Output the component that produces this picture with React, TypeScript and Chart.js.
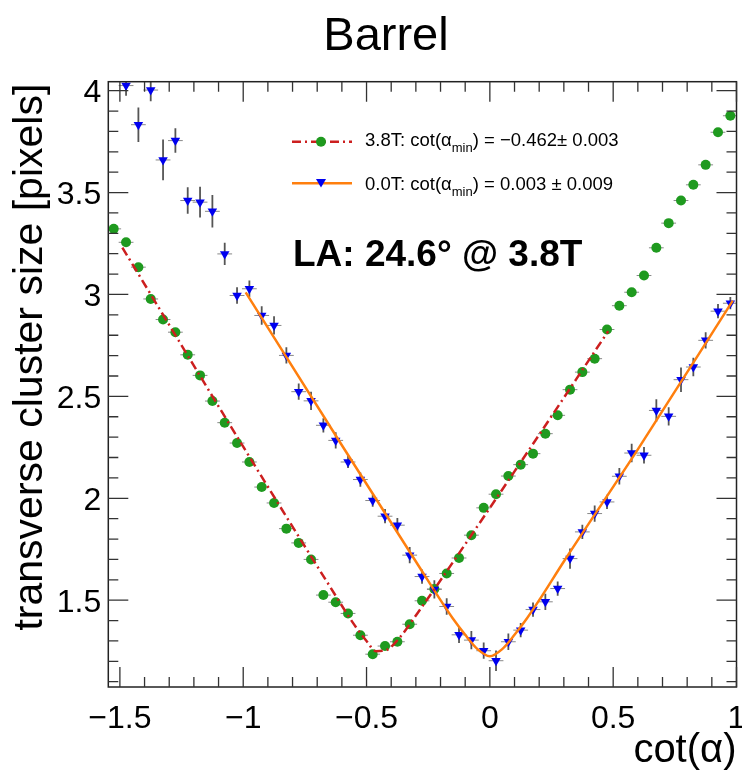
import React, { useEffect, useRef } from "react";
import { Chart, registerables } from "chart.js";

Chart.register(...registerables);

// ---------- data ----------
const xCenters = [
  -1.525, -1.475, -1.425, -1.375, -1.325, -1.275, -1.225, -1.175, -1.125, -1.075,
  -1.025, -0.975, -0.925, -0.875, -0.825, -0.775, -0.725, -0.675, -0.625, -0.575,
  -0.525, -0.475, -0.425, -0.375, -0.325, -0.275, -0.225, -0.175, -0.125, -0.075,
  -0.025, 0.025, 0.075, 0.125, 0.175, 0.225, 0.275, 0.325, 0.375, 0.425,
  0.475, 0.525, 0.575, 0.625, 0.675, 0.725, 0.775, 0.825, 0.875, 0.925, 0.975,
];

const size38T = [
  3.322, 3.256, 3.134, 2.978, 2.877, 2.815, 2.704, 2.603, 2.477, 2.371,
  2.271, 2.178, 2.055, 1.977, 1.851, 1.781, 1.7, 1.525, 1.49, 1.435,
  1.328, 1.235, 1.275, 1.296, 1.382, 1.497, 1.555, 1.631, 1.707, 1.819,
  1.953, 2.02, 2.109, 2.165, 2.219, 2.317, 2.407, 2.533, 2.619, 2.685,
  2.828, 2.945, 3.011, 3.093, 3.229, 3.35, 3.461, 3.538, 3.636, 3.796, 3.877,
];
const err38T = [
  0.02, 0.02, 0.02, 0.015, 0.015, 0.015, 0.015, 0.015, 0.015, 0.015,
  0.015, 0.015, 0.015, 0.015, 0.015, 0.015, 0.015, 0.015, 0.015, 0.015,
  0.015, 0.015, 0.015, 0.015, 0.015, 0.015, 0.015, 0.015, 0.015, 0.015,
  0.015, 0.015, 0.015, 0.015, 0.015, 0.015, 0.015, 0.015, 0.015, 0.015,
  0.015, 0.015, 0.015, 0.015, 0.015, 0.015, 0.015, 0.015, 0.015, 0.015, 0.015,
];

const size00T = [
  4.15, 4.025, 3.833, 4.003, 3.66, 3.755, 3.461, 3.453, 3.408, 3.199,
  2.995, 3.028, 2.897, 2.848, 2.701, 2.523, 2.478, 2.358, 2.284, 2.178,
  2.092, 1.989, 1.912, 1.868, 1.721, 1.616, 1.553, 1.469, 1.33, 1.304,
  1.252, 1.203, 1.296, 1.353, 1.454, 1.492, 1.557, 1.704, 1.835, 1.925,
  1.982, 2.108, 2.222, 2.211, 2.431, 2.402, 2.582, 2.644, 2.775, 2.918, 2.957,
];
const err00T = [
  0.05, 0.05, 0.085, 0.055, 0.1, 0.06, 0.065, 0.075, 0.08, 0.055,
  0.04, 0.04, 0.045, 0.045, 0.04, 0.04, 0.045, 0.035, 0.04, 0.03,
  0.035, 0.03, 0.035, 0.035, 0.04, 0.035, 0.045, 0.04, 0.04, 0.045,
  0.04, 0.05, 0.04, 0.035, 0.035, 0.04, 0.035, 0.05, 0.035, 0.04,
  0.035, 0.04, 0.045, 0.04, 0.055, 0.045, 0.06, 0.045, 0.04, 0.035, 0.03,
];

// fit curves
const fit38X = [-1.49, -1.0, -0.65, -0.55, -0.5, -0.462, -0.42, -0.37, -0.3, 0.1, 0.48];
const fit38Y = [3.23, 2.253, 1.57, 1.38, 1.3, 1.25, 1.255, 1.31, 1.425, 2.132, 2.82];
const fit00X = [-0.99, -0.6, -0.3, -0.2, -0.15, -0.1, -0.05, 0.0, 0.05, 0.1, 0.15, 0.2, 0.3, 0.6, 0.985];
const fit00Y = [3.01, 2.26, 1.69, 1.5, 1.41, 1.33, 1.26, 1.225, 1.26, 1.33, 1.41, 1.5, 1.69, 2.24, 2.97];

const xTickValues = [-1.5, -1, -0.5, 0, 0.5, 1];
const xTickLabels = ["\u22121.5", "\u22121", "\u22120.5", "0", "0.5", "1"];
const yTickValues = [1.5, 2, 2.5, 3, 3.5, 4];
const yTickLabels = ["1.5", "2", "2.5", "3", "3.5", "4"];

const X_MIN = -1.547;
const X_MAX = 1.0;
const Y_MIN = 1.074;
const Y_MAX = 4.044;

// ---------- style ----------
const FONT = '"Liberation Sans", Arial, Helvetica, sans-serif';
const GREEN = "#1f9a1f";
const BLUE = "#0000f0";
const RED = "#cc1f1f";
const ORANGE = "#ff7f0e";
const DASHDOT = [9, 4, 2, 4];

const decorPlugin = {
  id: "decor",
  beforeDatasetsDraw(chart: any) {
    const ctx = chart.ctx;
    const xs = chart.scales.x;
    const ys = chart.scales.y;
    const a = chart.chartArea;
    ctx.save();
    ctx.beginPath();
    ctx.rect(a.left, a.top, a.right - a.left, a.bottom - a.top);
    ctx.clip();
    const drawErr = (vals: number[], errs: number[]) => {
      for (let i = 0; i < xCenters.length; i++) {
        const px = xs.getPixelForValue(xCenters[i]);
        const py = ys.getPixelForValue(vals[i]);
        ctx.strokeStyle = "#555";
        ctx.lineWidth = 1.8;
        ctx.beginPath();
        ctx.moveTo(px, ys.getPixelForValue(vals[i] - errs[i]));
        ctx.lineTo(px, ys.getPixelForValue(vals[i] + errs[i]));
        ctx.stroke();
        ctx.strokeStyle = "#888";
        ctx.lineWidth = 1;
        ctx.beginPath();
        ctx.moveTo(xs.getPixelForValue(xCenters[i] - 0.03), py);
        ctx.lineTo(xs.getPixelForValue(xCenters[i] + 0.03), py);
        ctx.stroke();
      }
    };
    drawErr(size38T, err38T);
    drawErr(size00T, err00T);
    ctx.restore();
  },
  afterDatasetsDraw(chart: any) {
    const ctx = chart.ctx;
    const xs = chart.scales.x;
    const ys = chart.scales.y;
    const a = chart.chartArea;
    ctx.save();

    // frame
    ctx.strokeStyle = "#222";
    ctx.lineWidth = 1.5;
    ctx.strokeRect(a.left, a.top, a.right - a.left, a.bottom - a.top);

    // ticks
    ctx.lineWidth = 1.3;
    ctx.strokeStyle = "#333";
    const MAJ = 20;
    const MIN = 10;
    for (let k = Math.ceil(X_MIN * 10 - 1e-6); k <= Math.floor(X_MAX * 10 + 1e-6); k++) {
      const v = k / 10;
      const px = xs.getPixelForValue(v);
      const L = k % 5 === 0 ? MAJ : MIN;
      ctx.beginPath();
      ctx.moveTo(px, a.bottom);
      ctx.lineTo(px, a.bottom - L);
      ctx.moveTo(px, a.top);
      ctx.lineTo(px, a.top + L);
      ctx.stroke();
    }
    for (let k = Math.ceil(Y_MIN * 10 - 1e-6); k <= Math.floor(Y_MAX * 10 + 1e-6); k++) {
      const v = k / 10;
      const py = ys.getPixelForValue(v);
      const L = k % 5 === 0 ? MAJ : MIN;
      ctx.beginPath();
      ctx.moveTo(a.left, py);
      ctx.lineTo(a.left + L, py);
      ctx.moveTo(a.right, py);
      ctx.lineTo(a.right - L, py);
      ctx.stroke();
    }

    // tick labels
    ctx.fillStyle = "#000";
    ctx.font = `32px ${FONT}`;
    ctx.textBaseline = "alphabetic";
    ctx.textAlign = "center";
    xTickValues.forEach((v, i) => {
      ctx.fillText(xTickLabels[i], xs.getPixelForValue(v), a.bottom + 41);
    });
    ctx.textAlign = "right";
    yTickValues.forEach((v, i) => {
      ctx.fillText(yTickLabels[i], a.left - 7, ys.getPixelForValue(v) + 11.5);
    });

    // axis titles
    ctx.font = `40px ${FONT}`;
    ctx.textAlign = "right";
    ctx.fillText("cot(\u03b1)", a.right, 762);
    ctx.save();
    ctx.font = `41px ${FONT}`;
    ctx.translate(42, a.top + 2);
    ctx.rotate(-Math.PI / 2);
    ctx.textAlign = "right";
    ctx.fillText("transverse cluster size [pixels]", 0, 0);
    ctx.restore();

    // title
    ctx.font = `47px ${FONT}`;
    ctx.textAlign = "center";
    ctx.fillText("Barrel", 386, 50);

    // annotation
    ctx.font = `bold 37px ${FONT}`;
    ctx.textAlign = "left";
    ctx.fillText("LA: 24.6\u00b0 @ 3.8T", 293, 266);

    // legend
    const drawRich = (x: number, base: number, parts: [string, number, number][]) => {
      let cx = x;
      ctx.textAlign = "left";
      parts.forEach(([t, size, dy]) => {
        ctx.font = `${size}px ${FONT}`;
        ctx.fillText(t, cx, base + dy);
        cx += ctx.measureText(t).width;
      });
    };
    // row 1
    ctx.strokeStyle = RED;
    ctx.lineWidth = 2.5;
    ctx.setLineDash(DASHDOT);
    ctx.beginPath();
    ctx.moveTo(292, 141.7);
    ctx.lineTo(352, 141.7);
    ctx.stroke();
    ctx.setLineDash([]);
    ctx.fillStyle = GREEN;
    ctx.beginPath();
    ctx.arc(321, 141.7, 5, 0, Math.PI * 2);
    ctx.fill();
    ctx.fillStyle = "#000";
    drawRich(365, 146, [
      ["3.8T: cot(\u03b1", 18.5, 0],
      ["min", 13, 6],
      [") = \u22120.462\u00b1 0.003", 18.5, 0],
    ]);
    // row 2
    ctx.strokeStyle = ORANGE;
    ctx.lineWidth = 2.5;
    ctx.beginPath();
    ctx.moveTo(292, 183.3);
    ctx.lineTo(352, 183.3);
    ctx.stroke();
    ctx.fillStyle = BLUE;
    ctx.beginPath();
    ctx.moveTo(316, 179);
    ctx.lineTo(326, 179);
    ctx.lineTo(321, 187.5);
    ctx.closePath();
    ctx.fill();
    ctx.fillStyle = "#000";
    drawRich(365, 190, [
      ["0.0T: cot(\u03b1", 18.5, 0],
      ["min", 13, 6],
      [") = 0.003 \u00b1 0.009", 18.5, 0],
    ]);

    ctx.restore();
  },
};

export default function App() {
  const ref = useRef<HTMLCanvasElement | null>(null);
  useEffect(() => {
    if (!ref.current) return;
    const chart = new Chart(ref.current, {
      type: "scatter",
      data: {
        datasets: [
          {
            label: "fit 3.8T",
            data: fit38X.map((x, i) => ({ x, y: fit38Y[i] })),
            showLine: true,
            borderColor: RED,
            borderWidth: 2.5,
            borderDash: DASHDOT,
            pointRadius: 0,
            cubicInterpolationMode: "monotone",
            fill: false,
            clip: 0,
          } as any,
          {
            label: "fit 0.0T",
            data: fit00X.map((x, i) => ({ x, y: fit00Y[i] })),
            showLine: true,
            borderColor: ORANGE,
            borderWidth: 2.5,
            pointRadius: 0,
            cubicInterpolationMode: "monotone",
            fill: false,
            clip: 0,
          } as any,
          {
            label: "0.0T",
            data: xCenters.map((x, i) => ({ x, y: size00T[i] })),
            pointStyle: "triangle",
            rotation: 180,
            pointRadius: 5.5,
            backgroundColor: BLUE,
            borderColor: BLUE,
            borderWidth: 0,
            clip: 0,
          } as any,
          {
            label: "3.8T",
            data: xCenters.map((x, i) => ({ x, y: size38T[i] })),
            pointStyle: "circle",
            pointRadius: 5,
            backgroundColor: GREEN,
            borderColor: GREEN,
            borderWidth: 0,
            clip: 0,
          } as any,
        ],
      },
      options: {
        animation: false,
        responsive: false,
        devicePixelRatio: 1,
        layout: { padding: { left: 108.3, top: 81.7, right: 742 - 736.7, bottom: 770 - 687 } },
        scales: {
          x: { type: "linear", min: X_MIN, max: X_MAX, display: false },
          y: { type: "linear", min: Y_MIN, max: Y_MAX, display: false },
        },
        plugins: { legend: { display: false }, tooltip: { enabled: false }, title: { display: false } },
        events: [],
      },
      plugins: [decorPlugin],
    });
    return () => chart.destroy();
  }, []);
  return (
    <div style={{ position: "absolute", left: 0, top: 0, width: 742, height: 770, background: "#fff" }}>
      <canvas ref={ref} width={742} height={770} style={{ width: 742, height: 770 }} />
    </div>
  );
}
